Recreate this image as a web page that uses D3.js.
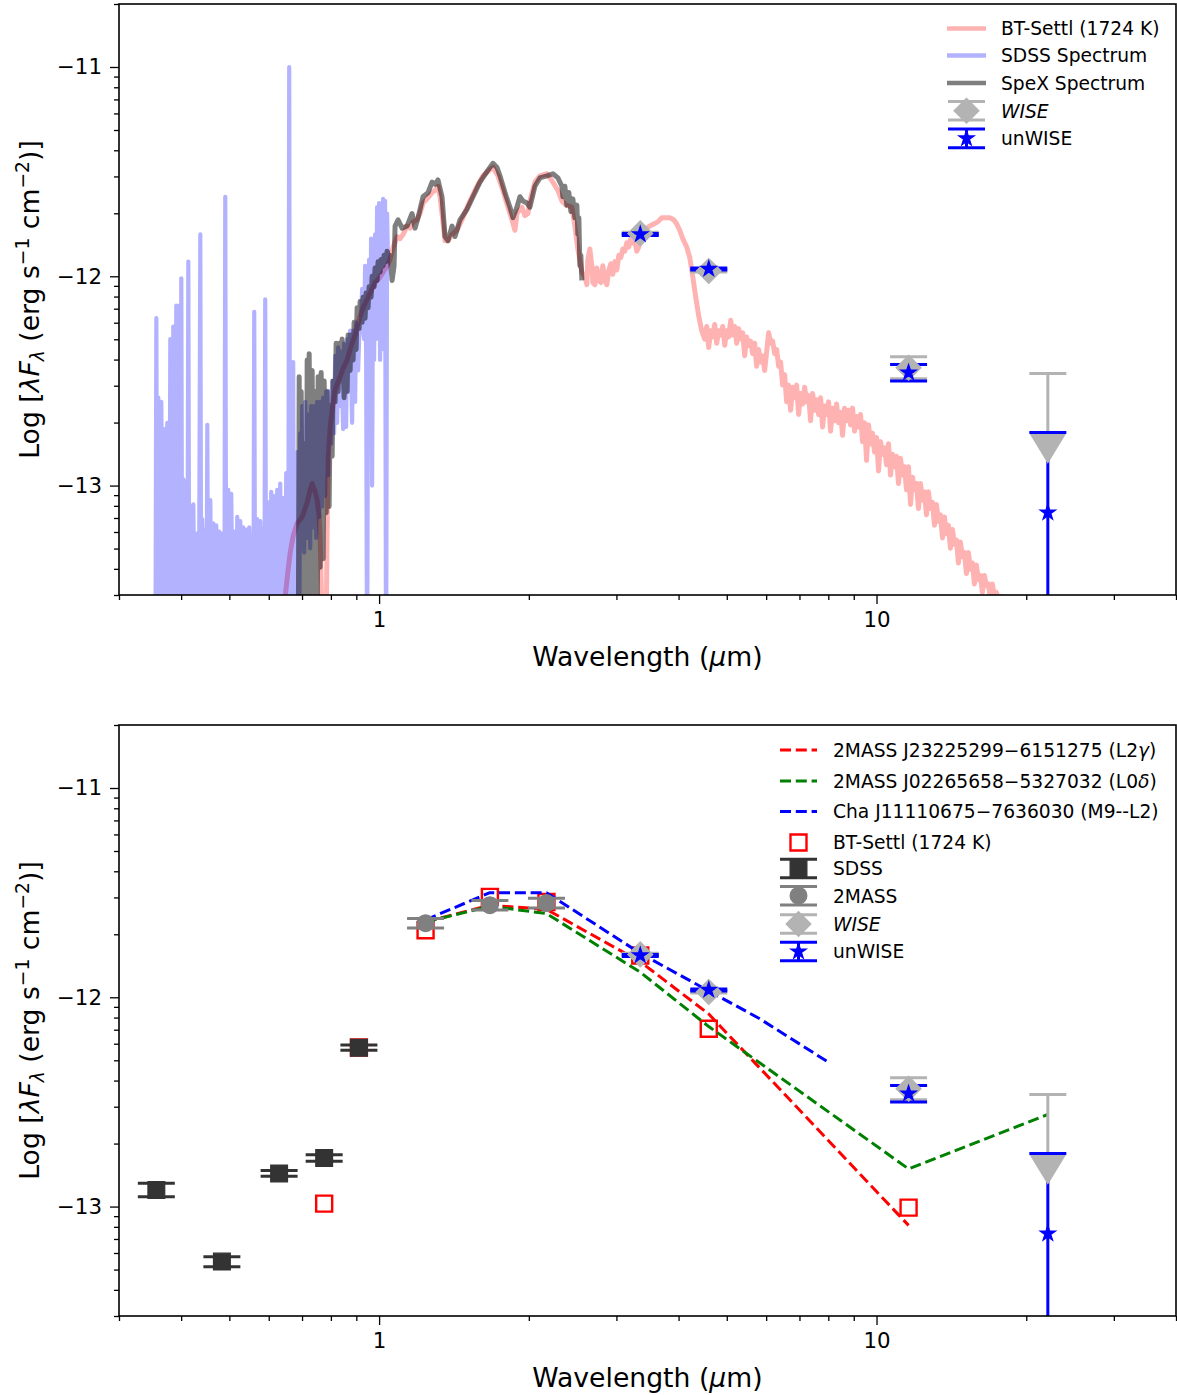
<!DOCTYPE html>
<html>
<head>
<meta charset="utf-8">
<script src="https://cdn.jsdelivr.net/npm/d3@7"></script>
<style>
  html, body { margin: 0; padding: 0; background: #ffffff; }
  svg text { font-family: "DejaVu Sans", sans-serif; white-space: pre; }
</style>
</head>
<body>
<svg id="fig" width="1177" height="1395" xmlns="http://www.w3.org/2000/svg"></svg>
<script>
// ---------------------------------------------------------------
// Spectra: [wavelength (micron), log10(lambda F_lambda / erg s^-1 cm^-2)]
// ---------------------------------------------------------------
const btSettlSpectrum = [
[0.6327,-14.20],[0.6475,-13.53],[0.6565,-13.40],[0.6627,-13.32],[0.6719,-13.24],[0.6844,-13.18],[0.7005,-13.15],[0.7168,-13.08],
[0.7269,-13.02],[0.7336,-12.99],[0.7439,-13.03],[0.7508,-13.07],[0.7577,-13.15],[0.7613,-13.25],[0.7648,-13.45],[0.7683,-13.70],
[0.7755,-13.90],[0.7827,-13.70],[0.7863,-13.20],[0.7899,-12.88],[0.7973,-12.72],[0.8047,-12.64],[0.8159,-12.54],[0.8350,-12.48],
[0.8467,-12.44],[0.8625,-12.40],[0.8745,-12.35],[0.8826,-12.32],[0.8950,-12.28],[0.9033,-12.24],[0.9159,-12.19],[0.9287,-12.15],
[0.9417,-12.12],[0.9504,-12.10],[0.9682,-12.06],[0.9817,-12.03],[1.0000,-12.01],[1.0187,-11.98],[1.0377,-11.95],[1.0522,-11.92],
[1.0669,-11.86],[1.0868,-11.81],[1.1020,-11.82],[1.1174,-11.80],[1.1382,-11.76],[1.1541,-11.77],[1.1702,-11.74],[1.1921,-11.73],
[1.2087,-11.70],[1.2256,-11.65],[1.2485,-11.63],[1.2777,-11.60],[1.2955,-11.59],[1.3136,-11.57],[1.3258,-11.62],[1.3382,-11.70],
[1.3569,-11.83],[1.3758,-11.83],[1.4015,-11.80],[1.4343,-11.78],[1.4678,-11.73],[1.5091,-11.66],[1.5444,-11.61],[1.5732,-11.57],
[1.6175,-11.52],[1.6707,-11.49],[1.6940,-11.48],[1.7336,-11.52],[1.7742,-11.59],[1.8157,-11.67],[1.8496,-11.73],[1.8754,-11.78],
[1.8928,-11.70],[1.9371,-11.67],[1.9641,-11.71],[1.9916,-11.70],[2.0101,-11.64],[2.0571,-11.55],[2.1052,-11.52],[2.1745,-11.51],
[2.2356,-11.55],[2.2879,-11.59],[2.3306,-11.64],[2.3741,-11.66],[2.4409,-11.67],[2.4750,-11.76],[2.5096,-11.87],[2.5564,-11.98],
[2.5921,-12.00],[2.6162,-12.04],[2.6283,-11.92],[2.6528,-11.87],[2.6774,-11.95],[2.6898,-12.03],[2.7148,-12.04],[2.7400,-11.96],
[2.7655,-12.02],[2.7912,-12.03],[2.8171,-11.95],[2.8432,-12.02],[2.8697,-12.04],[2.8963,-11.97],[2.9232,-11.94],[2.9504,-11.99],
[2.9778,-11.93],[3.0055,-11.97],[3.0334,-11.90],[3.0616,-11.91],[3.0900,-11.87],[3.1187,-11.88],[3.1477,-11.84],[3.1769,-11.86],
[3.2065,-11.82],[3.2362,-11.84],[3.2663,-11.83],[3.2966,-11.88],[3.3273,-11.86],[3.3582,-11.80],[3.4051,-11.79],[3.4527,-11.77],
[3.5009,-11.76],[3.5662,-11.75],[3.6328,-11.74],[3.7006,-11.72],[3.7697,-11.72],[3.8401,-11.72],[3.9117,-11.73],[3.9664,-11.75],
[4.0218,-11.78],[4.0780,-11.82],[4.1541,-11.86],[4.2121,-11.91],[4.2709,-12.00],[4.3306,-12.10],[4.3911,-12.19],[4.4524,-12.26],
[4.5146,-12.30],[4.5565,-12.24],[4.5989,-12.34],[4.6416,-12.26],[4.6847,-12.29],[4.7282,-12.23],[4.7722,-12.32],[4.8165,-12.26],
[4.8613,-12.28],[4.9064,-12.24],[4.9520,-12.33],[4.9980,-12.26],[5.0444,-12.29],[5.0913,-12.21],[5.1386,-12.28],[5.1863,-12.24],
[5.2345,-12.32],[5.2831,-12.25],[5.3322,-12.30],[5.3818,-12.27],[5.4318,-12.38],[5.4822,-12.29],[5.5331,-12.33],[5.5846,-12.31],
[5.6364,-12.37],[5.6888,-12.32],[5.7417,-12.43],[5.7950,-12.35],[5.8488,-12.41],[5.9032,-12.38],[5.9580,-12.45],[6.0134,-12.36],
[6.0692,-12.27],[6.1256,-12.32],[6.1825,-12.31],[6.2400,-12.37],[6.2979,-12.35],[6.3564,-12.43],[6.4155,-12.41],[6.4751,-12.52],
[6.5353,-12.47],[6.5960,-12.60],[6.6572,-12.52],[6.7191,-12.64],[6.7815,-12.53],[6.8445,-12.58],[6.9081,-12.52],[6.9723,-12.66],
[7.0371,-12.56],[7.1024,-12.61],[7.1684,-12.53],[7.2350,-12.60],[7.3022,-12.57],[7.3701,-12.69],[7.4385,-12.56],[7.5076,-12.64],
[7.5774,-12.59],[7.6478,-12.66],[7.7188,-12.58],[7.7905,-12.72],[7.8629,-12.62],[7.9360,-12.66],[8.0097,-12.60],[8.0841,-12.74],
[8.1592,-12.63],[8.2350,-12.69],[8.3115,-12.61],[8.3887,-12.70],[8.4667,-12.65],[8.5453,-12.76],[8.6247,-12.63],[8.7048,-12.69],
[8.7857,-12.64],[8.8673,-12.71],[8.9497,-12.63],[9.0329,-12.74],[9.1168,-12.67],[9.2015,-12.72],[9.2870,-12.66],[9.3732,-12.79],
[9.4603,-12.70],[9.5482,-12.88],[9.6369,-12.71],[9.7265,-12.80],[9.8168,-12.75],[9.9080,-12.84],[10.000,-12.77],[10.093,-12.93],
[10.187,-12.79],[10.281,-12.85],[10.377,-12.82],[10.473,-12.90],[10.571,-12.80],[10.669,-12.95],[10.768,-12.85],[10.868,-12.91],
[10.969,-12.86],[11.071,-12.99],[11.174,-12.87],[11.277,-12.95],[11.382,-12.91],[11.488,-13.02],[11.595,-12.91],[11.703,-13.09],
[11.811,-12.96],[11.921,-13.02],[12.032,-12.99],[12.143,-13.11],[12.256,-12.99],[12.370,-13.07],[12.485,-13.03],[12.601,-13.14],
[12.718,-13.03],[12.836,-13.11],[12.956,-13.08],[13.076,-13.19],[13.197,-13.09],[13.320,-13.17],[13.444,-13.14],[13.569,-13.25],
[13.695,-13.15],[13.822,-13.23],[13.950,-13.19],[14.080,-13.30],[14.211,-13.21],[14.343,-13.28],[14.476,-13.26],[14.610,-13.37],
[14.746,-13.27],[14.883,-13.34],[15.022,-13.32],[15.161,-13.42],[15.302,-13.32],[15.444,-13.40],[15.588,-13.37],[15.732,-13.47],
[15.879,-13.38],[16.026,-13.45],[16.175,-13.43],[16.325,-13.51],[16.477,-13.43],[16.630,-13.48],[16.784,-13.47],[16.940,-13.54],
[17.098,-13.47],[17.257,-13.53],[17.417,-13.51],[17.660,-13.56],[17.907,-13.53],[18.157,-13.60]
];

const sdssSpectrum = [
[0.3550,-14.00],[0.3566,-12.20],[0.3583,-13.90],[0.3599,-12.58],[0.3632,-14.00],[0.3649,-12.60],[0.3683,-13.90],[0.3700,-12.73],
[0.3735,-14.00],[0.3752,-12.70],[0.3787,-13.90],[0.3804,-12.30],[0.3840,-14.00],[0.3857,-12.24],[0.3893,-13.90],[0.3911,-12.14],
[0.3948,-14.00],[0.3966,-12.14],[0.3985,-13.90],[0.4003,-12.01],[0.4022,-14.00],[0.4040,-12.97],[0.4078,-13.90],[0.4097,-12.98],
[0.4116,-14.00],[0.4135,-11.93],[0.4154,-13.90],[0.4173,-13.10],[0.4212,-14.00],[0.4232,-13.09],[0.4271,-13.90],[0.4291,-13.23],
[0.4331,-14.00],[0.4351,-13.19],[0.4371,-11.80],[0.4391,-14.00],[0.4411,-13.16],[0.4452,-13.90],[0.4473,-13.21],[0.4494,-14.00],
[0.4515,-12.71],[0.4535,-13.90],[0.4578,-13.07],[0.4620,-14.00],[0.4642,-13.18],[0.4685,-13.90],[0.4706,-13.19],[0.4750,-14.00],
[0.4772,-13.22],[0.4817,-13.90],[0.4839,-13.23],[0.4884,-14.00],[0.4906,-11.62],[0.4929,-13.90],[0.4975,-13.02],[0.5021,-14.00],
[0.5044,-13.04],[0.5091,-13.90],[0.5115,-13.22],[0.5162,-14.00],[0.5186,-13.15],[0.5234,-13.90],[0.5259,-13.17],[0.5308,-14.00],
[0.5332,-13.20],[0.5382,-13.90],[0.5407,-13.21],[0.5457,-14.00],[0.5482,-13.20],[0.5533,-13.90],[0.5559,-13.24],[0.5585,-14.00],
[0.5610,-12.17],[0.5636,-13.90],[0.5689,-13.16],[0.5742,-14.00],[0.5768,-13.17],[0.5822,-13.90],[0.5849,-13.21],[0.5876,-14.00],
[0.5903,-12.11],[0.5930,-13.90],[0.5985,-13.08],[0.6041,-14.00],[0.6069,-13.03],[0.6126,-13.90],[0.6154,-13.05],[0.6211,-14.00],
[0.6240,-13.02],[0.6298,-13.90],[0.6327,-12.99],[0.6386,-14.00],[0.6415,-13.06],[0.6475,-13.90],[0.6505,-12.94],[0.6565,-14.00],
[0.6596,-11.00],[0.6627,-13.90],[0.6657,-12.41],[0.6688,-14.00],[0.6719,-12.41],[0.6750,-13.90],[0.6781,-12.92],[0.6813,-14.00],
[0.6844,-12.84],[0.6908,-13.90],[0.6940,-12.75],[0.6972,-13.30],[0.7005,-12.62],[0.7070,-13.32],[0.7102,-12.60],[0.7168,-13.25],
[0.7202,-12.66],[0.7269,-13.30],[0.7302,-12.62],[0.7370,-13.20],[0.7404,-12.62],[0.7473,-13.25],[0.7508,-12.60],[0.7577,-13.15],
[0.7613,-12.60],[0.7683,-13.10],[0.7719,-12.58],[0.7790,-13.05],[0.7827,-12.55],[0.7899,-12.95],[0.7936,-12.55],[0.8010,-12.80],
[0.8047,-12.50],[0.8121,-12.75],[0.8159,-12.38],[0.8235,-12.70],[0.8273,-12.34],[0.8350,-12.62],[0.8389,-12.36],[0.8467,-12.73],
[0.8506,-12.32],[0.8585,-12.72],[0.8625,-12.30],[0.8705,-12.55],[0.8745,-12.26],[0.8826,-12.70],[0.8867,-12.26],[0.8950,-12.60],
[0.8991,-12.22],[0.9075,-12.45],[0.9117,-12.30],[0.9201,-12.20],[0.9244,-12.06],[0.9330,-12.30],[0.9373,-11.95],[0.9417,-12.35],
[0.9460,-14.00],[0.9504,-12.16],[0.9548,-11.92],[0.9592,-12.45],[0.9637,-11.82],[0.9682,-13.00],[0.9726,-11.88],[0.9771,-12.40],
[0.9817,-11.80],[0.9862,-12.30],[0.9908,-11.67],[0.9954,-12.25],[1.0000,-11.65],[1.0046,-12.40],[1.0093,-11.68],[1.0140,-12.20],
[1.0187,-11.63],[1.0234,-12.35],[1.0281,-11.64],[1.0329,-14.00],[1.0377,-11.70],[1.0425,-11.95]
];

const spexSpectrum = [
[0.6876,-14.00],[0.6908,-12.48],[0.6940,-13.90],[0.6972,-12.55],[0.7037,-14.00],[0.7070,-12.80],[0.7135,-13.90],[0.7168,-12.40],
[0.7202,-14.00],[0.7235,-12.37],[0.7302,-13.90],[0.7336,-12.45],[0.7404,-14.00],[0.7439,-12.55],[0.7508,-13.80],[0.7542,-12.48],
[0.7613,-13.39],[0.7648,-12.46],[0.7719,-13.35],[0.7755,-12.50],[0.7827,-13.13],[0.7863,-12.55],[0.7936,-13.10],[0.7973,-12.62],
[0.8047,-12.86],[0.8084,-12.50],[0.8159,-12.60],[0.8197,-12.32],[0.8273,-12.55],[0.8311,-12.32],[0.8389,-12.50],[0.8428,-12.30],
[0.8506,-12.58],[0.8545,-12.33],[0.8625,-12.55],[0.8665,-12.28],[0.8745,-12.45],[0.8786,-12.28],[0.8867,-12.40],[0.8908,-12.22],
[0.8991,-12.35],[0.9033,-12.15],[0.9117,-12.25],[0.9159,-12.12],[0.9244,-12.22],[0.9287,-12.10],[0.9373,-12.20],[0.9417,-12.08],
[0.9504,-12.15],[0.9548,-12.05],[0.9637,-12.10],[0.9682,-12.00],[0.9771,-12.05],[0.9817,-11.96],[0.9908,-12.02],[0.9954,-11.93],
[1.0046,-11.98],[1.0093,-11.92],[1.0187,-11.95],[1.0234,-11.90],[1.0329,-11.93],[1.0377,-11.88],[1.0473,-11.92],[1.0522,-11.90],
[1.0620,-12.02],[1.0718,-11.95],[1.0768,-11.76],[1.0918,-11.73],[1.1122,-11.77],[1.1382,-11.76],[1.1648,-11.70],[1.1811,-11.77],
[1.1976,-11.72],[1.2256,-11.62],[1.2543,-11.60],[1.2777,-11.55],[1.2955,-11.56],[1.3136,-11.54],[1.3382,-11.62],[1.3569,-11.81],
[1.3758,-11.83],[1.4015,-11.76],[1.4211,-11.81],[1.4543,-11.73],[1.5021,-11.68],[1.5444,-11.62],[1.5952,-11.55],[1.6477,-11.50],
[1.6940,-11.46],[1.7256,-11.48],[1.7497,-11.52],[1.7907,-11.60],[1.8325,-11.67],[1.8581,-11.72],[1.8928,-11.67],[1.9193,-11.62],
[1.9461,-11.64],[1.9824,-11.65],[2.0101,-11.67],[2.0571,-11.57],[2.1052,-11.53],[2.1745,-11.52],[2.2356,-11.51],[2.2879,-11.53],
[2.3306,-11.57],[2.3414,-11.62],[2.3632,-11.57],[2.3851,-11.66],[2.4073,-11.60],[2.4296,-11.69],[2.4522,-11.63],[2.4750,-11.72],
[2.4980,-11.66],[2.5096,-11.80],[2.5212,-11.72],[2.5329,-11.95],[2.5446,-11.90],[2.5564,-12.02]
];

// ---------------------------------------------------------------
// Photometry (log10 lambda F_lambda); low/high are the error-bar ends
// ---------------------------------------------------------------
const wiseBands  = ["W1", "W2", "W3", "W4"];
const wiseWave   = [3.35, 4.60, 11.6, 22.1];
const wiseFlux   = [-11.795, -11.975, -12.437, -12.823];
const wiseLow    = [-11.800, -11.980, -12.490, null];     // W4: upper limit
const wiseHigh   = [-11.790, -11.970, -12.385, -12.465];

const unwiseFlux = [-11.800, -11.965, -12.460, -13.129];
const unwiseLow  = [-11.805, -11.970, -12.500, -14.500];
const unwiseHigh = [-11.795, -11.960, -12.421, -12.747];

const sdssBands  = ["u", "g", "r", "i", "z"];
const sdssWave   = [0.3566, 0.4830, 0.6295, 0.7755, 0.9108];
const sdssFlux   = [-12.921, -13.263, -12.842, -12.768, -12.241];
const sdssLow    = [-12.953, -13.287, -12.855, -12.784, -12.253];
const sdssHigh   = [-12.889, -13.240, -12.828, -12.752, -12.228];

const tmassBands = ["J", "H", "Ks"];
const tmassWave  = [1.24, 1.67, 2.17];
const tmassFlux  = [-11.646, -11.560, -11.550];
const tmassLow   = [-11.669, -11.583, -11.573];
const tmassHigh  = [-11.623, -11.537, -11.527];

// BT-Settl (1724 K) synthetic photometry
const modelPhotWave = [0.7755, 0.9108, 1.24, 1.67, 2.17, 3.35, 4.60, 11.6];
const modelPhotFlux = [-12.986, -12.240, -11.680, -11.520, -11.545, -11.800, -12.150, -13.005];

// Comparison objects (scaled SEDs)
const l2gammaWave = [1.24, 1.67, 2.17, 3.35, 4.60, 11.6];
const l2gammaFlux = [-11.640, -11.560, -11.580, -11.830, -12.080, -13.090];
const l0deltaWave = [1.24, 1.67, 2.17, 3.35, 4.60, 11.6, 22.1];
const l0deltaFlux = [-11.640, -11.565, -11.600, -11.880, -12.140, -12.820, -12.560];
const chaWave     = [1.24, 1.67, 2.17, 3.35, 4.60, 5.80, 8.00];
const chaFlux     = [-11.630, -11.500, -11.500, -11.790, -11.970, -12.100, -12.310];

// Axis ticks
const xMajorTicks = [1, 10];
const yMajorTicks = [-13, -12, -11];

// ---------------------------------------------------------------
const svg = d3.select("#fig");
const FS = 18.67;          // legend text
const FS_TICK = 21.33;     // tick labels
const FS_LABEL = 26.67;    // axis labels
const X0 = 119, X1 = 1176;
const xDomain = [0.3, 40];
const yDomain = [Math.log10(3e-14), Math.log10(2e-11)];

const C_MODEL = "red", C_SDSS = "blue", C_SPEX = "black";
const C_WISE = "#b3b3b3", C_UNWISE = "#0000ff", C_SDSSPT = "#333333", C_2MASS = "#808080";
const ELW = 3.0, CAP = 18.5;

function makePanel(yTop, yBottom, id) {
  const x = d3.scaleLog().domain(xDomain).range([X0, X1]);
  const y = d3.scaleLinear().domain(yDomain).range([yBottom, yTop]);
  svg.append("clipPath").attr("id", id).append("rect")
    .attr("x", X0).attr("y", yTop).attr("width", X1 - X0).attr("height", yBottom - yTop);
  const g = svg.append("g");
  const plot = g.append("g").attr("clip-path", `url(#${id})`);
  return { x, y, top: yTop, bottom: yBottom, g, plot };
}

function richText(parent, x, y, parts, size, opts = {}) {
  const t = parent.append("text").attr("x", x).attr("y", y).attr("font-size", size).attr("fill", "black");
  if (opts.anchor) t.attr("text-anchor", opts.anchor);
  if (opts.rotate) t.attr("transform", `rotate(${opts.rotate},${x},${y})`);
  let shift = 0;
  parts.forEach(p => {
    const s = t.append("tspan").text(p.t);
    if (p.it) s.attr("font-style", "italic");
    let target = 0, fs = size;
    if (p.sub) { target = size * 0.20; fs = size * 0.7; }
    if (p.sup) { target = -size * 0.38; fs = size * 0.7; }
    s.attr("font-size", fs);
    if (target - shift !== 0) s.attr("dy", target - shift);
    shift = target;
  });
  return t;
}

function drawAxes(p) {
  const minorX = [];
  [0.1, 1, 10].forEach(dec => { for (let k = 2; k <= 9; k++) { const v = k * dec; if (v >= xDomain[0] - 1e-9 && v <= xDomain[1] + 1e-9) minorX.push(v); } });
  const minorY = [];
  [-14, -13, -12, -11].forEach(n => { for (let k = 2; k <= 9; k++) { const v = n + Math.log10(k); if (v >= yDomain[0] - 1e-9 && v <= yDomain[1] + 1e-9) minorY.push(v); } });

  const style = sel => {
    sel.select(".domain").remove();
    sel.selectAll(".tick line").attr("stroke", "black").attr("stroke-width", 1.3);
    sel.selectAll(".tick text").attr("font-size", FS_TICK).attr("font-family", "DejaVu Sans").attr("fill", "black");
  };
  p.g.append("g").attr("transform", `translate(0,${p.bottom})`)
    .call(d3.axisBottom(p.x).tickValues(minorX).tickSize(5).tickFormat(""))
    .call(style);
  p.g.append("g").attr("transform", `translate(0,${p.bottom})`)
    .call(d3.axisBottom(p.x).tickValues(xMajorTicks).tickSize(9).tickPadding(8).tickFormat(d3.format("d")))
    .call(style);
  p.g.append("g").attr("transform", `translate(${X0},0)`)
    .call(d3.axisLeft(p.y).tickValues(minorY).tickSize(5).tickFormat(""))
    .call(style);
  p.g.append("g").attr("transform", `translate(${X0},0)`)
    .call(d3.axisLeft(p.y).tickValues(yMajorTicks).tickSize(9).tickPadding(8).tickFormat(d => "\u2212" + Math.abs(d)))
    .call(style);

  p.g.append("rect").attr("x", X0).attr("y", p.top).attr("width", X1 - X0).attr("height", p.bottom - p.top)
    .attr("fill", "none").attr("stroke", "black").attr("stroke-width", 1.6);

  richText(p.g, (X0 + X1) / 2, p.bottom + 71,
    [{ t: "Wavelength (" }, { t: "\u03bc", it: 1 }, { t: "m)" }], FS_LABEL, { anchor: "middle" });
  const cy = (p.top + p.bottom) / 2;
  richText(p.g, 39, cy,
    [{ t: "Log [" }, { t: "\u03bbF", it: 1 }, { t: "\u03bb", it: 1, sub: 1 }, { t: " (erg s" },
     { t: "\u22121", sup: 1 }, { t: " cm" }, { t: "\u22122", sup: 1 }, { t: ")]" }],
    FS_LABEL, { anchor: "middle", rotate: -90 });
}

const lineGen = p => d3.line().x(d => p.x(d[0])).y(d => p.y(d[1]));

function spectrum(p, data, color, opacity, width) {
  p.plot.append("path").datum(data).attr("d", lineGen(p))
    .attr("fill", "none").attr("stroke", color).attr("stroke-opacity", opacity)
    .attr("stroke-width", width).attr("stroke-linejoin", "round").attr("stroke-linecap", "butt");
}

function errorBars(layer, p, wave, flux, low, high, color) {
  wave.forEach((w, i) => {
    const cx = p.x(w);
    const yTop = p.y(high[i]);
    const yBot = low[i] === null ? p.y(flux[i]) : p.y(low[i]);
    layer.append("line").attr("x1", cx).attr("x2", cx).attr("y1", yTop).attr("y2", yBot)
      .attr("stroke", color).attr("stroke-width", ELW);
    layer.append("line").attr("x1", cx - CAP).attr("x2", cx + CAP).attr("y1", yTop).attr("y2", yTop)
      .attr("stroke", color).attr("stroke-width", ELW);
    if (low[i] !== null)
      layer.append("line").attr("x1", cx - CAP).attr("x2", cx + CAP).attr("y1", yBot).attr("y2", yBot)
        .attr("stroke", color).attr("stroke-width", ELW);
  });
}

const starPath = d3.symbol().type(d3.symbolStar).size(74)();
const circlePath = d3.symbol().type(d3.symbolCircle).size(222)();
const squarePath = d3.symbol().type(d3.symbolSquare).size(282)();
const openSquarePath = d3.symbol().type(d3.symbolSquare).size(256)();
const diamondPath = d3.symbol().type(d3.symbolSquare).size(310)();
const triDownPath = "M-17,-14L17,-14L0,14Z";

function marker(layer, cx, cy, path, fill, stroke, sw, rot = 0) {
  layer.append("path").attr("d", path)
    .attr("transform", `translate(${cx},${cy})` + (rot ? ` rotate(${rot})` : ""))
    .attr("fill", fill).attr("stroke", stroke).attr("stroke-width", sw).attr("stroke-linejoin", "miter");
}

function wiseMarkers(layer, p) {
  wiseWave.forEach((w, i) => {
    if (wiseLow[i] === null) marker(layer, p.x(w), p.y(wiseFlux[i]), triDownPath, C_WISE, C_WISE, 1.2);
    else marker(layer, p.x(w), p.y(wiseFlux[i]), diamondPath, C_WISE, C_WISE, 1.2, 45);
  });
}
function unwiseMarkers(layer, p) {
  wiseWave.forEach((w, i) => marker(layer, p.x(w), p.y(unwiseFlux[i]), starPath, C_UNWISE, C_UNWISE, 1.2));
}

function legendErr(g, cx, cy, color, path, rot) {
  g.append("line").attr("x1", cx).attr("x2", cx).attr("y1", cy - 9.3).attr("y2", cy + 9.3).attr("stroke", color).attr("stroke-width", ELW);
  [-9.3, 9.3].forEach(dy => g.append("line").attr("x1", cx - CAP).attr("x2", cx + CAP)
    .attr("y1", cy + dy).attr("y2", cy + dy).attr("stroke", color).attr("stroke-width", ELW));
  marker(g, cx, cy, path, color, color, 1.2, rot);
}

// ================= UPPER PANEL =================
const upperPanel = makePanel(4, 595, "clipUpper");
spectrum(upperPanel, btSettlSpectrum, C_MODEL, 0.3, 5);
spectrum(upperPanel, sdssSpectrum, C_SDSS, 0.3, 4.2);
spectrum(upperPanel, spexSpectrum, C_SPEX, 0.5, 5);
{
  const bars = upperPanel.plot.append("g"), marks = upperPanel.plot.append("g");
  errorBars(bars, upperPanel, wiseWave, wiseFlux, wiseLow, wiseHigh, C_WISE);
  errorBars(bars, upperPanel, wiseWave, unwiseFlux, unwiseLow, unwiseHigh, C_UNWISE);
  wiseMarkers(marks, upperPanel);
  unwiseMarkers(marks, upperPanel);
}
drawAxes(upperPanel);

// upper legend
{
  const lg = svg.append("g");
  const hx0 = 947, hx1 = 986, hc = 966.5, tx = 1001;
  const labels = [[{ t: "BT-Settl (1724 K)" }], [{ t: "SDSS Spectrum" }], [{ t: "SpeX Spectrum" }], [{ t: "WISE", it: 1 }], [{ t: "unWISE" }]];
  const rows = [28.6, 55.6, 82.9, 110.7, 138.4];
  [[C_MODEL, 0.3], [C_SDSS, 0.3], [C_SPEX, 0.5]].forEach(([c, o], i) =>
    lg.append("line").attr("x1", hx0).attr("x2", hx1).attr("y1", rows[i]).attr("y2", rows[i])
      .attr("stroke", c).attr("stroke-opacity", o).attr("stroke-width", 4.5));
  legendErr(lg, hc, rows[3], C_WISE, diamondPath, 45);
  legendErr(lg, hc, rows[4], C_UNWISE, starPath, 0);
  labels.forEach((parts, i) => richText(lg, tx, rows[i] + 6.8, parts, FS));
}

// ================= LOWER PANEL =================
const lowerPanel = makePanel(725, 1316, "clipLower");
{
  const squares = lowerPanel.plot.append("g");
  modelPhotWave.forEach((w, i) =>
    marker(squares, lowerPanel.x(w), lowerPanel.y(modelPhotFlux[i]), openSquarePath, "none", "red", 2.4));

  const dashed = (wave, flux, color) => lowerPanel.plot.append("path").datum(wave.map((w, i) => [w, flux[i]]))
    .attr("d", lineGen(lowerPanel)).attr("fill", "none").attr("stroke", color).attr("stroke-width", 3)
    .attr("stroke-dasharray", "11,4.8").attr("stroke-linejoin", "round");
  dashed(l2gammaWave, l2gammaFlux, "red");
  dashed(l0deltaWave, l0deltaFlux, "green");
  dashed(chaWave, chaFlux, "blue");

  const bars = lowerPanel.plot.append("g"), marks = lowerPanel.plot.append("g");
  errorBars(bars, lowerPanel, sdssWave, sdssFlux, sdssLow, sdssHigh, C_SDSSPT);
  errorBars(bars, lowerPanel, tmassWave, tmassFlux, tmassLow, tmassHigh, C_2MASS);
  errorBars(bars, lowerPanel, wiseWave, wiseFlux, wiseLow, wiseHigh, C_WISE);
  errorBars(bars, lowerPanel, wiseWave, unwiseFlux, unwiseLow, unwiseHigh, C_UNWISE);
  sdssWave.forEach((w, i) => marker(marks, lowerPanel.x(w), lowerPanel.y(sdssFlux[i]), squarePath, C_SDSSPT, C_SDSSPT, 1.2));
  tmassWave.forEach((w, i) => marker(marks, lowerPanel.x(w), lowerPanel.y(tmassFlux[i]), circlePath, C_2MASS, C_2MASS, 1.2));
  wiseMarkers(marks, lowerPanel);
  unwiseMarkers(marks, lowerPanel);
}
drawAxes(lowerPanel);

// lower legend
{
  const lg = svg.append("g");
  const hx0 = 780, hx1 = 817, hc = 798.5, tx = 833;
  const rows = [750.0, 781.0, 811.5, 842.5, 868.5, 895.7, 924.0, 951.5];
  const labels = [
    [{ t: "2MASS J23225299\u22126151275 (L2" }, { t: "\u03b3", it: 1 }, { t: ")" }],
    [{ t: "2MASS J02265658\u22125327032 (L0" }, { t: "\u03b4", it: 1 }, { t: ")" }],
    [{ t: "Cha J11110675\u22127636030 (M9--L2)" }],
    [{ t: "BT-Settl (1724 K)" }],
    [{ t: "SDSS" }], [{ t: "2MASS" }], [{ t: "WISE", it: 1 }], [{ t: "unWISE" }]
  ];
  ["red", "green", "blue"].forEach((c, i) =>
    lg.append("line").attr("x1", hx0).attr("x2", hx1).attr("y1", rows[i]).attr("y2", rows[i])
      .attr("stroke", c).attr("stroke-width", 3).attr("stroke-dasharray", "11,4.8"));
  marker(lg, hc, rows[3], openSquarePath, "none", "red", 2.4);
  legendErr(lg, hc, rows[4], C_SDSSPT, squarePath, 0);
  legendErr(lg, hc, rows[5], C_2MASS, circlePath, 0);
  legendErr(lg, hc, rows[6], C_WISE, diamondPath, 45);
  legendErr(lg, hc, rows[7], C_UNWISE, starPath, 0);
  labels.forEach((parts, i) => richText(lg, tx, rows[i] + 6.8, parts, FS));
}
</script>
</body>
</html>
